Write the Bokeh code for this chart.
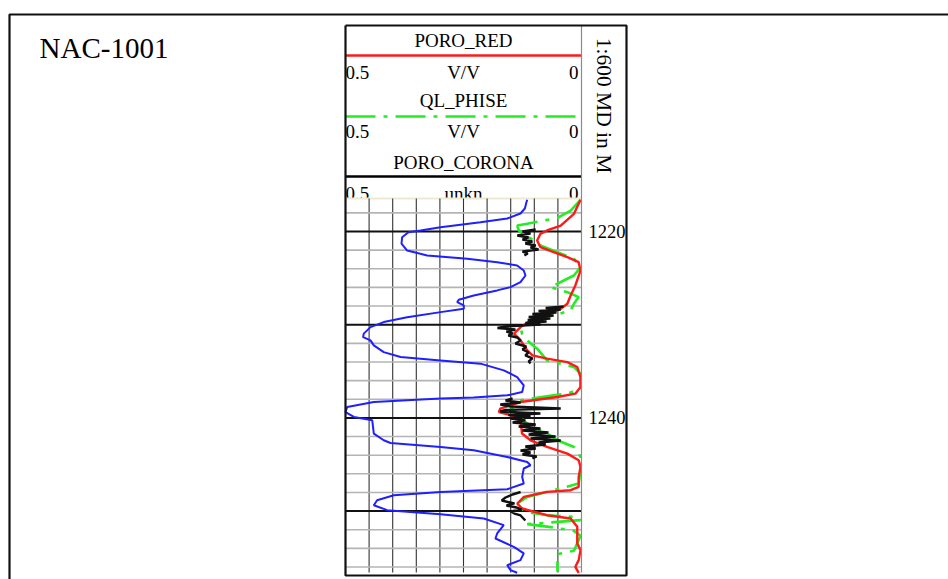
import numpy as np
from bokeh.plotting import figure
from bokeh.models import Range1d
from bokeh.core.properties import value
from bokeh.embed import file_html
from bokeh.resources import INLINE

nan = float("nan")

# ---------------- data ----------------
well_name = "NAC-1001"
scale_label = "1:600 MD in M"
curve_names = ["PORO_RED", "QL_PHISE", "PORO_CORONA"]
curve_units = ["V/V", "V/V", "unkn"]
curve_left = ["0.5", "0.5", "0.5"]
curve_right = ["0", "0", "0"]
depth_labels = [1220, 1240]
major_depths = [1220, 1230, 1240, 1250]
minor_depths = [1218, 1222, 1224, 1226, 1228, 1232, 1234, 1236, 1238,
                1242, 1244, 1246, 1248, 1252, 1254, 1256]
por_grid = [0.45, 0.40, 0.35, 0.30, 0.25, 0.20, 0.15, 0.10, 0.05]

gr_depth = [1216.6, 1216.86, 1217.53, 1218.07, 1218.61, 1219.0, 1219.54, 1219.89, 1220.08, 1220.61, 1221.29,
            1222.04, 1222.57, 1222.93, 1223.29, 1223.64, 1224.18, 1224.72, 1225.43, 1225.97, 1226.32,
            1226.86, 1227.32, 1227.58, 1227.93, 1228.29, 1228.65, 1229.19, 1229.72, 1230.26, 1230.96,
            1231.33, 1231.68, 1232.22, 1232.94, 1233.47, 1233.83, 1234.18, 1234.9, 1235.62, 1236.51,
            1237.22, 1237.58, 1237.82, 1237.93, 1238.3, 1238.83, 1239.37, 1239.9, 1240.26, 1241.68,
            1242.4, 1242.69, 1243.12, 1243.47, 1244.19, 1244.73, 1245.08, 1245.43, 1246.33, 1247.04,
            1247.65, 1247.94, 1248.3, 1248.83, 1249.37, 1249.9, 1250.33, 1250.79, 1251.51, 1252.4,
            1252.94, 1253.84, 1254.54, 1255.26, 1255.8, 1256.33, 1256.62]
gr_val = [115.5, 115.0, 114.0, 111.2, 102.8, 85.8, 60.4, 47.7, 40.0, 36.0, 35.6,
          39.2, 51.9, 77.4, 96.4, 109.1, 113.3, 114.4, 111.2, 104.9, 96.4,
          81.5, 72.0, 71.0, 75.2, 75.2, 60.4, 39.2, 24.3, 15.9, 11.6,
          11.2, 15.9, 18.0, 24.3, 35.0, 60.4, 85.8, 100.6, 109.1, 113.3,
          112.3, 102.8, 81.5, 60.4, 18.0, 1.1, 0.0, 5.3, 17.0, 18.0,
          24.3, 28.6, 60.4, 81.5, 102.8, 115.5, 117.6, 113.3, 112.3, 113.3,
          102.8, 60.4, 30.7, 20.1, 18.0, 26.5, 60.4, 87.9, 100.6, 96.4,
          95.3, 107.0, 113.3, 111.2, 102.8, 104.9, 109.1]

red_depth = [1216.6, 1218.10, 1219.36, 1219.89, 1220.25, 1220.96, 1221.68, 1222.22, 1222.75, 1223.29,
             1224.18, 1225.79, 1226.86, 1227.75, 1228.28, 1229.0, 1229.54, 1230.26, 1230.96, 1231.68,
             1232.75, 1233.29, 1233.64, 1234.01, 1234.54, 1235.62, 1236.69, 1237.40, 1237.76, 1238.30,
             1239.0, 1239.37, 1239.72, 1240.26, 1241.68, 1242.40, 1243.12, 1243.83, 1244.54, 1245.26,
             1246.33, 1247.41, 1247.76, 1247.94, 1248.48, 1249.19, 1249.72, 1250.44, 1250.79, 1251.69,
             1253.47, 1254.19, 1255.26, 1255.98, 1256.62]
red_por = [0.002, 0.016, 0.044, 0.073, 0.087, 0.094, 0.087, 0.059, 0.030, 0.006,
           0.002, 0.013, 0.023, 0.030, 0.044, 0.073, 0.108, 0.129, 0.143, 0.129,
           0.115, 0.104, 0.073, 0.030, 0.009, 0.002, 0.002, 0.013, 0.051, 0.129,
           0.172, 0.175, 0.150, 0.129, 0.126, 0.108, 0.073, 0.030, 0.006, 0.002,
           0.006, 0.006, 0.023, 0.073, 0.122, 0.136, 0.126, 0.073, 0.023, 0.009,
           0.009, 0.002, 0.006, 0.013, 0.006]

green_depth = [1216.6, 1217.75, 1218.53, 1218.90, 1219.17, 1219.36, 1219.89, 1220.96, 1221.50, 1222.22,
               1222.93, 1223.83, 1224.72, 1225.07, 1225.97, 1226.51, 1227.04, 1227.75, 1228.47, 1229.0,
               1229.54, 1230.26, 1230.96, 1231.68, 1232.57, 1233.83, 1234.54, 1235.25, 1236.86, 1237.40,
               1237.58, 1238.11, 1238.83, 1240.61, 1241.68, 1242.40, 1243.12, 1244.19, 1245.62, 1247.04,
               1247.76, 1248.48, 1249.19, 1250.09, 1250.44, 1250.62, 1250.97, 1251.40, 1251.76, 1252.12,
               1252.65, 1254.26, 1254.62, 1256.52]
green_por = [0.002, 0.023, 0.051, 0.087, 0.115, 0.136, 0.133, 0.101, 0.087, 0.051,
             0.016, 0.002, 0.016, 0.030, 0.066, 0.030, 0.006, 0.016, 0.023, 0.059,
             0.101, 0.129, 0.126, 0.115, 0.094, 0.073, 0.016, 0.002, 0.002, 0.030,
             0.059, 0.129, 0.150, 0.115, 0.073, 0.051, 0.016, 0.002, 0.002, 0.006,
             0.059, 0.115, 0.136, 0.119, 0.073, 0.016, 0.002, 0.115, 0.059, 0.016,
             0.002, 0.016, 0.051, 0.051]

black_depth = [1219.79, 1220.0, 1220.21, 1220.43, 1220.64, 1220.86, 1221.07, 1221.29, 1221.50,
               1221.72, 1221.93, 1222.15, 1222.36, 1222.58, nan,
               1228.05, 1228.21, 1228.37, 1228.53, 1228.69, 1228.85, 1229.01, 1229.17, 1229.33,
               1229.50, 1229.66, 1229.82, 1229.98, 1230.19, 1230.35, 1230.52, 1230.73, 1230.94,
               1231.16, 1231.37, 1231.70, 1232.02, 1232.34, 1232.66, 1232.98, 1233.30, 1233.62,
               1233.95, 1234.16, nan,
               1237.92, 1238.13, 1238.35, 1238.56, 1238.78, 1238.99, 1239.15, 1239.31, 1239.53,
               1239.69, 1239.85, 1240.06, 1240.27, 1240.49, 1240.71, 1240.92, 1241.14, 1241.35,
               1241.57, 1241.78, 1242.0, 1242.21, 1242.42, 1242.64, 1242.85, 1243.07, 1243.28,
               1243.50, 1243.71, 1243.93, 1244.14, 1244.36, nan,
               1247.95, 1248.22, 1248.54, 1248.86, 1249.18, 1249.40, 1249.61, 1249.83, 1250.04,
               1250.26, 1250.47, 1250.79, 1251.01]
black_por = [0.097, 0.125, 0.108, 0.136, 0.112, 0.125, 0.104, 0.119, 0.097,
             0.108, 0.091, 0.125, 0.114, 0.121, nan,
             0.038, 0.076, 0.044, 0.091, 0.053, 0.104, 0.059, 0.112, 0.066,
             0.114, 0.074, 0.119, 0.087, 0.161, 0.178, 0.140, 0.159, 0.146,
             0.155, 0.136, 0.129, 0.140, 0.117, 0.125, 0.112, 0.119, 0.104,
             0.112, 0.108, nan,
             0.146, 0.161, 0.129, 0.172, 0.150, 0.044, 0.161, 0.172, 0.087,
             0.155, 0.108, 0.150, 0.119, 0.146, 0.097, 0.133, 0.087, 0.125,
             0.070, 0.112, 0.055, 0.108, 0.044, 0.091, 0.076, 0.119, 0.097,
             0.129, 0.108, 0.125, 0.095, 0.104, nan,
             0.129, 0.146, 0.161, 0.169, 0.142, 0.159, 0.138, 0.127, 0.150,
             0.142, 0.129, 0.123, 0.119]

# ---------------- layout (canvas pixels) ----------------
W, H = 948, 579
TL, TR = 345, 581          # track left / right
TT, TB = 198, 572          # track top / bottom
BOX_L, BOX_R, BOX_T, BOX_B = 345, 626, 25, 575
Y_REF, D_REF, PXM = 231, 1220.0, 9.32   # 1220 m at canvas y 231, px per metre
POR_L, POR_R = 0.5, 0.0
GR_L, GR_R = 0.0, 150.0

por_px = (TR - TL) / (POR_L - POR_R)
gr_px = (TR - TL) / (GR_R - GR_L)
D_TOP = D_REF - (Y_REF - TT) / PXM
D_BOT = D_REF + (TB - Y_REF) / PXM

p = figure(width=W, height=H, output_backend="svg", toolbar_location=None,
           x_range=Range1d(0, W), y_range=Range1d(H, 0),
           min_border=0, min_border_left=0, min_border_right=0,
           min_border_top=0, min_border_bottom=0)
p.xaxis.visible = False
p.yaxis.visible = False
p.grid.visible = False
p.outline_line_color = None
p.background_fill_color = "white"
p.border_fill_color = "white"

p.extra_x_ranges = {
    "por": Range1d(POR_L + TL / por_px, POR_R - (W - TR) / por_px),
    "gr": Range1d(GR_L - TL / gr_px, GR_R + (W - TR) / gr_px),
}
p.extra_y_ranges = {
    "depth": Range1d(D_REF + (H - Y_REF) / PXM, D_REF - Y_REF / PXM),
}

FONT = value("Liberation Serif")

# outer page frame
p.line([9, 9, W + 10], [H + 10, 14, 14], line_color="#111111", line_width=2.2)

# header texts
cx = (TL + TR) / 2
name_y = [40, 100, 161.5]
unit_y = [71.5, 131, 193]
p.text(x=[cx] * 3, y=name_y, text=curve_names, text_font=FONT, text_font_size="19px",
       text_align="center", text_baseline="middle", text_color="black")
p.text(x=[cx] * 3, y=unit_y, text=curve_units, text_font=FONT, text_font_size="19px",
       text_align="center", text_baseline="middle", text_color="black")
p.text(x=[TL] * 3, y=unit_y, text=curve_left, text_font=FONT, text_font_size="19px",
       text_align="left", text_baseline="middle", text_color="black")
p.text(x=[TR - 3] * 3, y=unit_y, text=curve_right, text_font=FONT, text_font_size="19px",
       text_align="right", text_baseline="middle", text_color="black")

# header curve samples
p.line([TL, TR], [55, 55], line_color="#ff1a1a", line_width=2.6)
p.line([TL, TR], [116, 116], line_color="#22ee22", line_width=2.6, line_dash="30 8 4 8")
p.line([TL, TR], [176, 176], line_color="black", line_width=2.6)

# scale label (rotated)
p.text(x=[603], y=[105], text=[scale_label], text_font=FONT, text_font_size="21.5px",
       text_align="center", text_baseline="middle", angle=-np.pi / 2, text_color="black")

# well name
p.text(x=[39], y=[47], text=[well_name], text_font=FONT, text_font_size="29px",
       text_align="left", text_baseline="middle", text_color="black")

# track background (covers bottom of header text)
p.quad(left=[POR_L], right=[POR_R], top=[D_TOP], bottom=[D_BOT], fill_color="white",
       line_color=None, x_range_name="por", y_range_name="depth")
p.segment(x0=[POR_L], x1=[POR_R], y0=[D_TOP], y1=[D_TOP], line_color="#efe9d2",
          line_width=2, x_range_name="por", y_range_name="depth")

# grid
p.segment(x0=por_grid, x1=por_grid, y0=[D_TOP] * len(por_grid), y1=[D_BOT] * len(por_grid),
          line_color="#333333", line_width=1.1, x_range_name="por", y_range_name="depth")
p.segment(x0=[POR_L] * len(minor_depths), x1=[POR_R] * len(minor_depths), y0=minor_depths,
          y1=minor_depths, line_color="#b4b4b4", line_width=1.6,
          x_range_name="por", y_range_name="depth")
p.segment(x0=[POR_L] * len(major_depths), x1=[POR_R] * len(major_depths), y0=major_depths,
          y1=major_depths, line_color="#111111", line_width=2.0,
          x_range_name="por", y_range_name="depth")

# curves
p.line(gr_val, gr_depth, line_color="#1f1fff", line_width=2.0,
       x_range_name="gr", y_range_name="depth")
p.line(green_por, green_depth, line_color="#22ee22", line_width=2.6, line_dash="30 8 4 8",
       x_range_name="por", y_range_name="depth")
p.line(red_por, red_depth, line_color="#ff1a1a", line_width=2.4,
       x_range_name="por", y_range_name="depth")
p.line(black_por, black_depth, line_color="#111111", line_width=2.4,
       x_range_name="por", y_range_name="depth")

# depth track divider and box
p.line([TR, TR], [BOX_T, TB], line_color="#8a8a8a", line_width=1.2)
p.line([BOX_L, BOX_R, BOX_R, BOX_L, BOX_L], [BOX_T, BOX_T, BOX_B, BOX_B, BOX_T],
       line_color="#111111", line_width=2.2)

# depth labels
p.text(x=[TR + 7] * len(depth_labels), y=depth_labels, text=[str(d) for d in depth_labels],
       text_font=FONT, text_font_size="18.5px", text_align="left", text_baseline="middle",
       text_color="black", y_range_name="depth")

open("out.html", "w").write(file_html(p, INLINE))
